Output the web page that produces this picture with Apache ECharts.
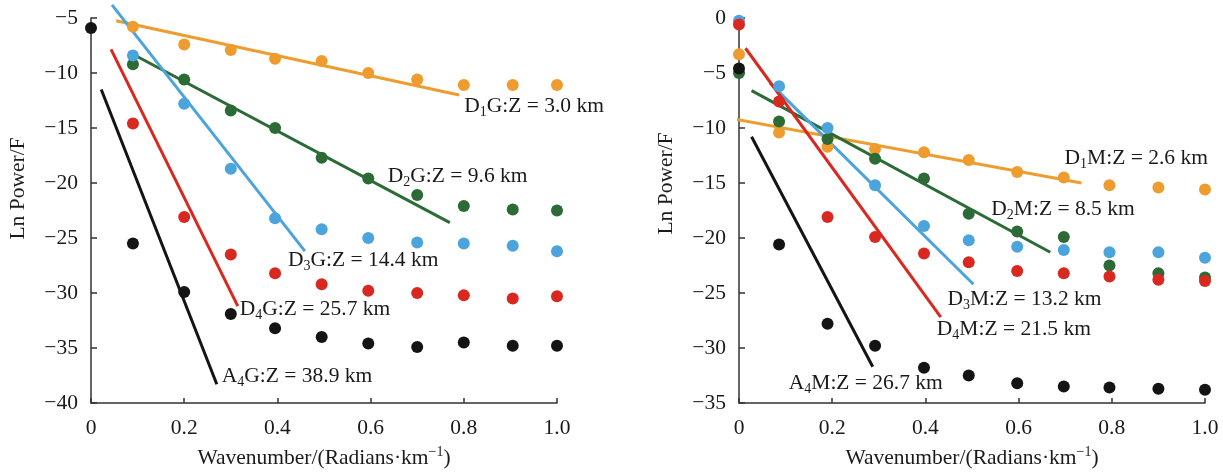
<!DOCTYPE html>
<html>
<head>
<meta charset="utf-8">
<script src="https://cdn.jsdelivr.net/npm/echarts@6/dist/echarts.min.js"></script>
<style>
  html, body { margin: 0; padding: 0; background: #fff; }
  #main { width: 1223px; height: 473px; }
</style>
</head>
<body>
<div id="main"></div>
<script>
// wavenumber positions (Radians/km)
var waveG = [0, 0.09, 0.2, 0.3, 0.395, 0.495, 0.595, 0.7, 0.8, 0.905, 1.0];
var waveM = [0, 0.086, 0.19, 0.292, 0.397, 0.493, 0.597, 0.697, 0.795, 0.9, 1.0];

// Ln Power/F, gravity panel
var gA4 = [-5.9, -25.5, -29.9, -31.9, -33.2, -34.0, -34.6, -34.9, -34.5, -34.8, -34.8];
var gD4 = [null, -14.6, -23.1, -26.5, -28.2, -29.2, -29.8, -30.0, -30.2, -30.5, -30.3];
var gD3 = [null, -8.4, -12.8, -18.7, -23.2, -24.2, -25.0, -25.4, -25.5, -25.7, -26.2];
var gD2 = [null, -9.2, -10.6, -13.4, -15.0, -17.7, -19.6, -21.1, -22.1, -22.4, -22.5];
var gD1 = [null, -5.8, -7.4, -7.9, -8.7, -8.9, -10.0, -10.6, -11.1, -11.1, -11.1];

// Ln Power/F, magnetic panel
var mA4 = [-4.6, -20.6, -27.8, -29.8, -31.8, -32.5, -33.2, -33.5, -33.6, -33.7, -33.8];
var mD4 = [-0.6, -7.6, -18.1, -19.9, -21.4, -22.2, -23.0, -23.2, -23.5, -23.8, -23.9];
var mD3 = [-0.25, -6.2, -10.0, -15.2, -18.9, -20.2, -20.8, -21.1, -21.3, -21.3, -21.8];
var mD2 = [-5.0, -9.4, -11.0, -12.8, -14.6, -17.8, -19.4, -19.9, -22.5, -23.2, -23.6];
var mD1 = [-3.3, -10.4, -11.7, -11.9, -12.2, -12.9, -14.0, -14.5, -15.2, -15.4, -15.6];

// fitted lines: [start, end]
var fitG_D1 = [[0.054, -5.25], [0.79, -12.0]];
var fitG_D2 = [[0.097, -8.45], [0.77, -23.6]];
var fitG_D3 = [[0.045, -3.8], [0.459, -26.2]];
var fitG_D4 = [[0.043, -7.85], [0.315, -31.2]];
var fitG_A4 = [[0.022, -11.5], [0.27, -38.3]];

var fitM_D1 = [[-0.007, -9.2], [0.735, -15.0]];
var fitM_D2 = [[0.027, -6.6], [0.668, -21.3]];
var fitM_D3 = [[0.066, -5.9], [0.503, -24.2]];
var fitM_D4 = [[0.014, -2.75], [0.433, -27.2]];
var fitM_A4 = [[0.027, -10.8], [0.287, -31.7]];

// depth labels: [letter, subscript, rest]
var labG = [['D', '1', 'G:Z = 3.0 km'], ['D', '2', 'G:Z = 9.6 km'], ['D', '3', 'G:Z = 14.4 km'],
            ['D', '4', 'G:Z = 25.7 km'], ['A', '4', 'G:Z = 38.9 km']];
var labM = [['D', '1', 'M:Z = 2.6 km'], ['D', '2', 'M:Z = 8.5 km'], ['D', '3', 'M:Z = 13.2 km'],
            ['D', '4', 'M:Z = 21.5 km'], ['A', '4', 'M:Z = 26.7 km']];

var xTicks = ['0', '0.2', '0.4', '0.6', '0.8', '1.0'];

var colors = { D1: '#EF9C2F', D2: '#2C6B35', D3: '#4CA4DC', D4: '#D9281F', A4: '#141414' };
var FONT = '"Liberation Serif", "Times New Roman", serif';
var TXT = '#1a1a1a';
var FS = 21.5;

var richLab = {
  n: { fontFamily: FONT, fontSize: FS, color: TXT, lineHeight: 26 },
  s: { fontFamily: FONT, fontSize: 14, color: TXT, lineHeight: 12, verticalAlign: 'bottom' }
};

function pts(wave, vals) {
  var out = [];
  for (var i = 0; i < wave.length; i++) {
    if (vals[i] != null) out.push([wave[i], vals[i]]);
  }
  return out;
}

function dots(idx, wave, vals, color) {
  return {
    type: 'scatter', xAxisIndex: idx, yAxisIndex: idx,
    data: pts(wave, vals), symbolSize: 12, clip: false, z: 3,
    itemStyle: { color: color, opacity: 1 }
  };
}

function fit(idx, line, color, lab, off) {
  return {
    type: 'line', xAxisIndex: idx, yAxisIndex: idx, clip: false, z: 2,
    showSymbol: true, symbol: 'circle', symbolSize: 0, silent: true,
    lineStyle: { color: color, width: 3 },
    itemStyle: { color: color },
    data: [
      { value: line[0] },
      { value: line[1], label: {
          show: true, position: 'right', distance: 0, offset: off,
          formatter: '{n|' + lab[0] + '}{s|' + lab[1] + '}{n|' + lab[2] + '}',
          rich: richLab
        } }
    ]
  };
}

function xAx(idx) {
  return {
    type: 'value', gridIndex: idx, min: 0, max: 1, interval: 0.2,
    name: 'Wavenumber/(Radians·km{sup|−1})',
    nameLocation: 'middle', nameGap: 42,
    nameTextStyle: {
      fontFamily: FONT, fontSize: FS, color: TXT, lineHeight: 26,
      rich: {
        sup: { fontFamily: FONT, fontSize: 14, color: TXT, lineHeight: 12, verticalAlign: 'top' }
      }
    },
    axisLine: { onZero: false, lineStyle: { color: '#333', width: 1.5 } },
    axisTick: { inside: true, length: 5, lineStyle: { color: '#333', width: 1.5 } },
    axisLabel: {
      fontFamily: FONT, fontSize: FS, color: TXT, margin: 14,
      formatter: function (v) { return xTicks[Math.round(v / 0.2)]; }
    },
    splitLine: { show: false }
  };
}

function yAx(idx, min, max, padTop) {
  return {
    type: 'value', gridIndex: idx, min: min, max: max, interval: 5,
    name: 'Ln Power/F', nameLocation: 'middle', nameGap: 62,
    nameTextStyle: { fontFamily: FONT, fontSize: FS, color: TXT, padding: [0, 0, 0, padTop] },
    axisLine: { onZero: false, lineStyle: { color: '#333', width: 1.5 } },
    axisTick: { inside: true, length: 6, lineStyle: { color: '#333', width: 1.5 } },
    axisLabel: {
      fontFamily: FONT, fontSize: FS, color: TXT, margin: 13,
      formatter: function (v) { return String(v).replace('-', '−'); }
    },
    splitLine: { show: false }
  };
}

var chart = echarts.init(document.getElementById('main'), null, { renderer: 'canvas' });

var option = {
  animation: false,
  backgroundColor: '#fff',
  grid: [
    { left: 91, top: 18, width: 466, height: 385, containLabel: false, outerBoundsMode: 'none' },
    { left: 739, top: 18, width: 466, height: 385, containLabel: false, outerBoundsMode: 'none' }
  ],
  xAxis: [xAx(0), xAx(1)],
  yAxis: [yAx(0, -40, -5, 44), yAx(1, -35, 0, 54)],
  series: [
    fit(0, fitG_D1, colors.D1, labG[0], [5, 11]),
    fit(0, fitG_D2, colors.D2, labG[1], [-62, -46]),
    fit(0, fitG_D3, colors.D3, labG[2], [-17, 9]),
    fit(0, fitG_D4, colors.D4, labG[3], [2, 3]),
    fit(0, fitG_A4, colors.A4, labG[4], [5, -8]),
    dots(0, waveG, gD1, colors.D1),
    dots(0, waveG, gD2, colors.D2),
    dots(0, waveG, gD3, colors.D3),
    dots(0, waveG, gD4, colors.D4),
    dots(0, waveG, gA4, colors.A4),

    fit(1, fitM_D1, colors.D1, labM[0], [-17, -25]),
    fit(1, fitM_D2, colors.D2, labM[1], [-59, -43]),
    fit(1, fitM_D3, colors.D3, labM[2], [-26, 15]),
    fit(1, fitM_D4, colors.D4, labM[3], [-4, 12]),
    fit(1, fitM_A4, colors.A4, labM[4], [-84, 17]),
    dots(1, waveM, mD1, colors.D1),
    dots(1, waveM, mD2, colors.D2),
    dots(1, waveM, mD3, colors.D3),
    dots(1, waveM, mD4, colors.D4),
    dots(1, waveM, mA4, colors.A4)
  ]
};

chart.setOption(option);
</script>
</body>
</html>
